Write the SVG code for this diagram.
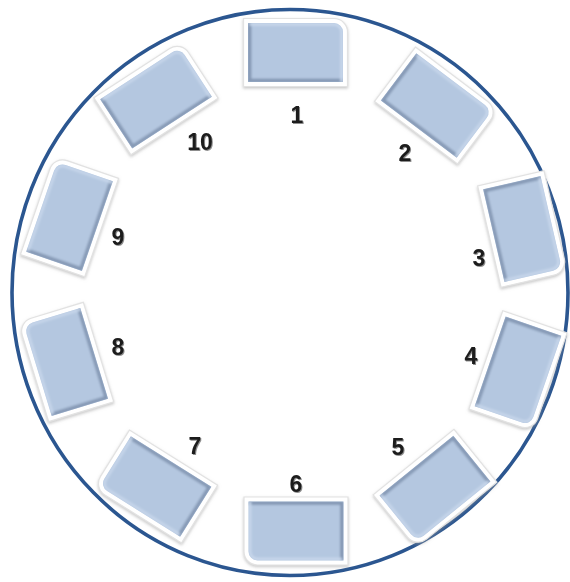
<svg xmlns="http://www.w3.org/2000/svg" xmlns:xlink="http://www.w3.org/1999/xlink" width="570" height="582" viewBox="0 0 570 582">
<style>
.lbl{font-family:"Liberation Sans",Arial,sans-serif;font-weight:bold;font-size:23px;fill:#1c1c1c;text-anchor:middle}
.ring{fill:none;stroke:#2b5690;stroke-width:3.6}
</style>
<defs>
<filter id="sh" x="-20%" y="-20%" width="140%" height="140%">
<feDropShadow dx="0" dy="1.5" stdDeviation="1.5" flood-color="#9a9a9a" flood-opacity="0.55"/>
</filter>
<filter id="soft" x="-10%" y="-10%" width="120%" height="120%">
<feGaussianBlur stdDeviation="0.8"/>
</filter>
<filter id="ts" x="-30%" y="-30%" width="160%" height="160%">
<feGaussianBlur in="SourceAlpha" stdDeviation="0.7"/>
<feOffset dx="0.5" dy="0.8"/>
<feComponentTransfer><feFuncA type="linear" slope="0.45"/></feComponentTransfer>
<feMerge><feMergeNode/><feMergeNode in="SourceGraphic"/></feMerge>
</filter>
<clipPath id="bodyclip"><path d="M-47.5,-29.5 H38.5 A9,9 0 0 1 47.5,-20.5 V29.5 H-47.5 Z"/></clipPath>
<g id="tile">
<path d="M-52,-34 H38.5 A13.5,13.5 0 0 1 52,-20.5 V34 H-52 Z" fill="#ffffff" stroke="#e2e2e2" stroke-width="1.2"/>
<path d="M-47.5,-29.5 H38.5 A9,9 0 0 1 47.5,-20.5 V29.5 H-47.5 Z" fill="#b4c7e0"/>
<g clip-path="url(#bodyclip)">
<path d="M-46,-29.5 V28 H47.5" fill="none" stroke="#8396b2" stroke-width="3.6" filter="url(#soft)"/>
<path d="M-46,-28 H38.5 A7.5,7.5 0 0 1 46,-20.5 V29.5" fill="none" stroke="#c9d8ec" stroke-width="2.5" filter="url(#soft)"/>
</g>
</g>
</defs>
<rect width="570" height="582" fill="#ffffff"/>
<g id="connectors">
<ellipse class="ring" cx="290" cy="292.5" rx="278" ry="283"/>
</g>
<g id="node1" filter="url(#sh)"><use xlink:href="#tile" transform="translate(295.5,52.5)"/></g>
<g id="node2" filter="url(#sh)"><use xlink:href="#tile" transform="translate(436.5,105.5) rotate(37)"/></g>
<g id="node3" filter="url(#sh)"><use xlink:href="#tile" transform="translate(522.5,229) rotate(77)"/></g>
<g id="node4" filter="url(#sh)"><use xlink:href="#tile" transform="translate(518,371) rotate(109)"/></g>
<g id="node5" filter="url(#sh)"><use xlink:href="#tile" transform="translate(435,488.5) rotate(141)"/></g>
<g id="node6" filter="url(#sh)"><use xlink:href="#tile" transform="translate(296,531) rotate(180)"/></g>
<g id="node7" filter="url(#sh)"><use xlink:href="#tile" transform="translate(155.5,486.5) rotate(-148)"/></g>
<g id="node8" filter="url(#sh)"><use xlink:href="#tile" transform="translate(66,362) rotate(-107)"/></g>
<g id="node9" filter="url(#sh)"><use xlink:href="#tile" transform="translate(69.5,216.5) rotate(-71)"/></g>
<g id="node10" filter="url(#sh)"><use xlink:href="#tile" transform="translate(156,98) rotate(-33)"/></g>
<g id="labels" filter="url(#ts)">
<text class="lbl" x="297" y="123">1</text>
<text class="lbl" x="405" y="161">2</text>
<text class="lbl" x="479" y="266">3</text>
<text class="lbl" x="471" y="364">4</text>
<text class="lbl" x="398" y="455">5</text>
<text class="lbl" x="296" y="492">6</text>
<text class="lbl" x="195" y="454">7</text>
<text class="lbl" x="118" y="355">8</text>
<text class="lbl" x="118" y="245">9</text>
<text class="lbl" x="200" y="150">10</text>
</g>
</svg>
